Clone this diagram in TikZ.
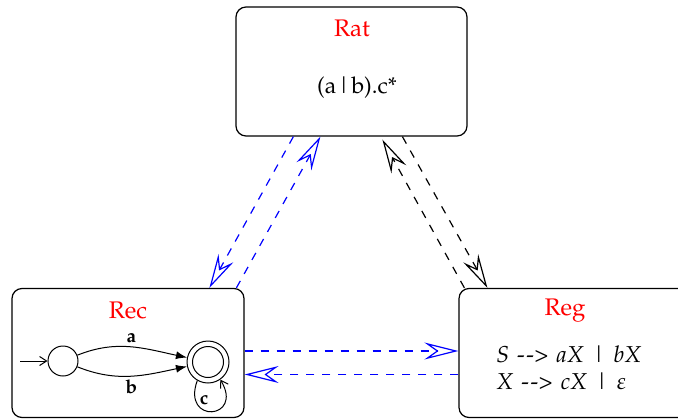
\documentclass[tikz,border=0pt]{standalone}
\usepackage[T1]{fontenc}
\usepackage{mathpazo}
\usetikzlibrary{arrows.meta,calc}
\begin{document}
\begin{tikzpicture}[x=0.5pt,y=0.5pt,
  box/.style={draw,rounded corners=5pt,line width=0.6pt,minimum width=115.5pt,minimum height=64.5pt,inner sep=0pt},
  title/.style={text=red,font=\fontsize{12}{14}\selectfont},
  body/.style={font=\fontsize{11.5}{13}\selectfont},
  bigtip/.style={-{Stealth[open,length=17pt,width=8.5pt,inset=6pt]}},
  blink/.style={draw=blue,line width=0.6pt,dash pattern=on 4pt off 4pt,bigtip},
  klink/.style={draw=black,line width=0.6pt,dash pattern=on 4pt off 4pt,bigtip},
  state/.style={draw,circle,line width=0.5pt,inner sep=0pt},
  lbl/.style={font=\fontsize{9.5}{10}\selectfont\bfseries},
  trans/.style={line width=0.5pt,-{Latex[length=5.5pt,width=4pt]}},
  otrans/.style={line width=0.5pt,-{Straight Barb[length=3.5pt,width=4.5pt]}}
]
\useasboundingbox (0,0) rectangle (678,418);
% boxes
\node[box] (rat) at (351.5,346.5) {};
\node[box,minimum width=116pt] (rec) at (128,65) {};
\node[box] (reg) at (574.5,65) {};
% titles and texts
\node[title] (rattitle) at (352,390) {Rat};
\node[body] (rattext) at (357,330) {(a\kern0.3pt|\kern0.3pt b).c*};
\node[title] (rectitle) at (128,108) {Rec};
\node[title] (regtitle) at (565,107) {Reg};
\node[body,anchor=west,inner sep=0pt] (reg1) at (496,64) {\textit{S}\hspace{4pt}-\kern0.8pt-\kern0.3pt>\hspace{4pt}\textit{aX}\hspace{4pt}|\hspace{4pt}\textit{bX}};
\node[body,anchor=west,inner sep=0pt] (reg2) at (496,37) {\textit{X}\hspace{4pt}-\kern0.8pt-\kern0.3pt>\hspace{4pt}\textit{cX}\hspace{4pt}|\hspace{4pt}$\varepsilon$};
% automaton
\node[state,minimum size=15pt] (q0) at (63,57) {};
\node[state,minimum size=21pt] (q1) at (208,56) {};
\node[state,minimum size=15.5pt] (q1in) at (208,56) {};
\coordinate (init) at (20,57);
\draw[otrans] (init) -- (q0);
\draw[trans] (q0) to[out=22,in=168] node[lbl,above=-1.5pt] (la) {a} (q1);
\draw[trans] (q0) to[out=-22,in=192] node[lbl,below=-1.5pt] (lb) {b} (q1);
\draw[otrans] (q1.240) .. controls +(-16,-44) and +(24,-40) .. (q1.305);
\node[lbl] (lc) at (204,18) {c};
% connectors
\draw[blink] ($(rat.south west)+(58,0)$) -- ($(rec.north west)+(198,0)$);
\draw[blink] ($(rec.north west)+(225,0)$) -- ($(rat.south west)+(85,0)$);
\draw[klink] ($(rat.south west)+(167,0)$) -- ($(reg.north west)+(29,0)$);
\draw[klink] ($(reg.north west)+(6,0)$) -- ($(rat.south west)+(147,-3)$);
\draw[blink] ($(rec.east)+(0,2)$) -- ($(reg.west)+(0,2)$);
\draw[blink] ($(reg.west)+(0,-21.5)$) -- ($(rec.east)+(0,-21.5)$);
\end{tikzpicture}
\end{document}
